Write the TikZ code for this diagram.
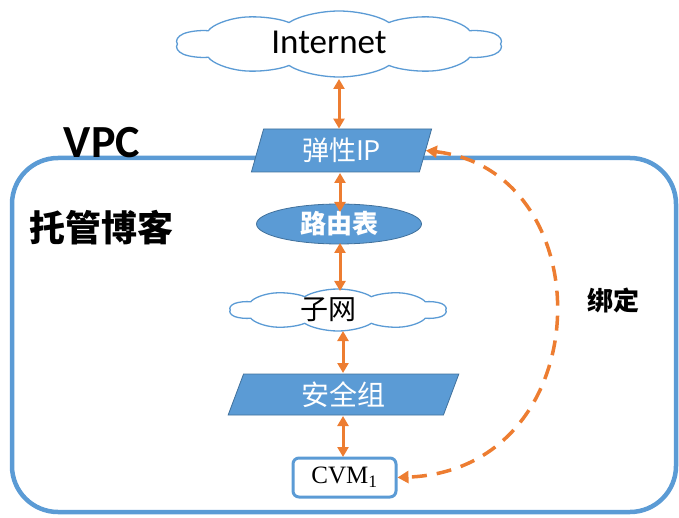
\documentclass[tikz,border=0pt]{standalone}
\usepackage{fontspec}
\setmainfont{Carlito}
\newfontfamily\cjk{Noto Sans CJK SC}
\newfontfamily\serifcvm{Liberation Serif}
\usetikzlibrary{shapes.geometric,shapes.symbols,arrows.meta}
\definecolor{mblue}{RGB}{91,155,213}
\definecolor{dblue}{RGB}{65,113,156}
\definecolor{morange}{RGB}{237,125,49}
\tikzset{
  cloudbox/.style={cloud, cloud puffs=10, cloud puff arc=120, aspect=2, draw=mblue, line width=1.3pt, fill=white, inner sep=0pt, transform shape},
  para/.style={trapezium, trapezium left angle=76, trapezium right angle=104, trapezium stretches=true, fill=mblue, draw=dblue, line width=0.8pt, text=white, inner sep=0pt},
  link/.style={draw=morange, line width=3pt, {Triangle[length=10pt,width=11pt]}-{Triangle[length=10pt,width=11pt]}},
  bind/.style={draw=morange, line width=3.5pt, dash pattern=on 15pt off 10pt, {Triangle[length=11pt,width=12pt]}-{Triangle[length=11pt,width=12pt]}},
}
\begin{document}
\begin{tikzpicture}[x=1pt,y=-1pt]
\useasboundingbox (0,0) rectangle (679,518);
% VPC container
\draw[mblue, line width=4.5pt, rounded corners=46pt] (12,158) rectangle (676,512);
\node[font=\bfseries\fontsize{46}{46}\selectfont, anchor=base] (vpc) at (102,158) {VPC};
\node[font=\cjk\bfseries\fontsize{36}{36}\selectfont] (blog) at (101,228) {托管博客};
% clouds
\begin{scope}[shift={(339,44)}, xscale=2.5]
  \node[cloudbox, minimum width=131pt, minimum height=66pt] (internet) at (0,0) {};
\end{scope}
\begin{scope}[shift={(338,310)}, xscale=2.5]
  \node[cloudbox, minimum width=87pt, minimum height=42pt] (subnet) at (0,0) {};
\end{scope}
\node[font=\fontsize{35}{35}\selectfont] (internetlbl) at (329,42) {Internet};
\node[font=\cjk\fontsize{28}{28}\selectfont] (subnetlbl) at (328,310) {子网};
% nodes
\node[para, minimum width=181pt, minimum height=43pt, font=\cjk\fontsize{27}{27}\selectfont] (eip) at (341.5,150.5) {弹性IP};
\node[ellipse, fill=mblue, draw=dblue, line width=0.8pt, minimum width=165pt, minimum height=40pt, inner sep=0pt, text=white, font=\cjk\bfseries\fontsize{26}{26}\selectfont] (rt) at (339,224) {路由表};
\node[para, minimum width=231pt, minimum height=41pt, font=\cjk\fontsize{28}{28}\selectfont] (sg) at (343.5,394.5) {安全组};
\node[draw=mblue, line width=3pt, rounded corners=6pt, fill=white, minimum width=103pt, minimum height=39pt, inner sep=0pt, font=\serifcvm\fontsize{25}{25}\selectfont] (cvm) at (344.5,477.5) {CVM\textsubscript{1}};
\node[font=\cjk\bfseries\fontsize{26}{26}\selectfont] (bindlbl) at (613,300) {绑定};
% links
\draw[link] (internet.south |- 0,79) -- (internet.south |- eip.north);
\draw[link] (340,173) -- (340,212);
\draw[link] (340,243) -- (340,291);
\draw[link] (343,331) -- (343,373);
\draw[link] (343,416) -- (343,457);
\draw[bind] (eip.east) .. controls (605,172) and (600,470) .. (cvm.east);
\end{tikzpicture}
\end{document}
